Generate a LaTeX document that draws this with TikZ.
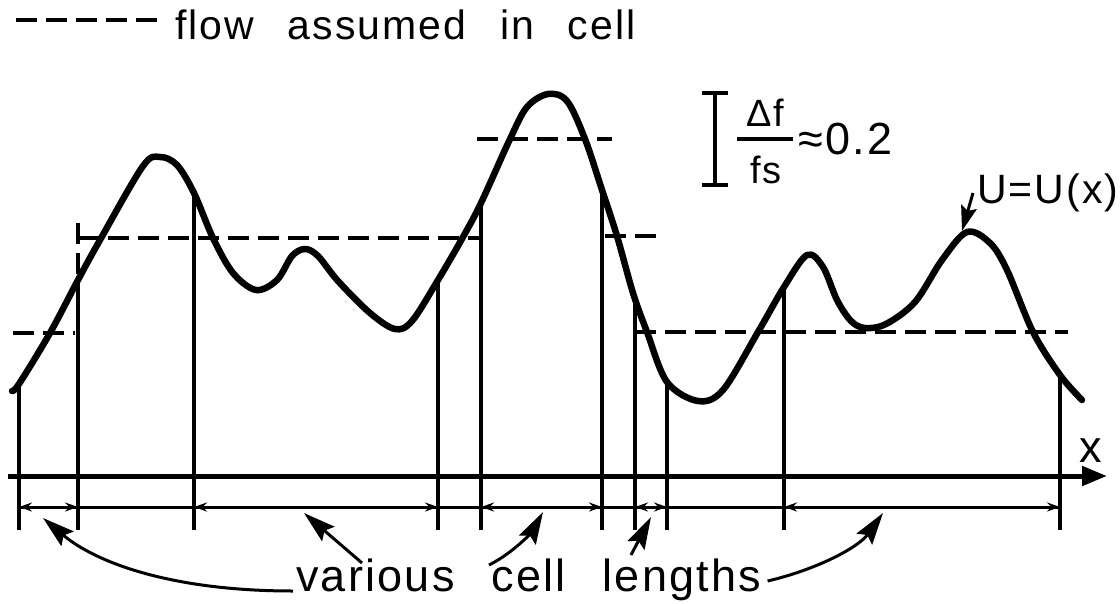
\documentclass[tikz,border=0pt]{standalone}
\usepackage{fontspec}
\setmainfont{Liberation Sans}[LetterSpace=5,WordSpace=2.5]
\usetikzlibrary{arrows.meta,calc}

\begin{document}
\begin{tikzpicture}[x=1pt, y=-1pt,
  ucurve/.style={line width=6.5pt, line join=round, line cap=round},
  cellline/.style={line width=3.8pt},
  flowlevel/.style={line width=4.8pt, dash pattern=on 21pt off 9pt},
  xaxis/.style={line width=5pt, -{Triangle[length=25pt,width=19pt]}},
  dimline/.style={line width=3pt},
  dimarrow/.style={line width=3pt, {Stealth[length=13pt,width=9pt]}-{Stealth[length=13pt,width=9pt]}},
  labarrow/.style={line width=3pt, -{Stealth[length=32pt,width=19pt,inset=5pt]}},
  uarrow/.style={line width=3pt, -{Stealth[length=25pt,width=16pt,inset=4pt]}},
  scalebar/.style={line width=4.2pt, {Bar[width=26pt]}-{Bar[width=26pt]}},
  lettering/.style={inner sep=0pt, font=\fontsize{41}{48}\selectfont},
  biglettering/.style={inner sep=0pt, font=\fontsize{45}{54}\selectfont},
  fraclettering/.style={inner sep=0pt, font=\fontsize{38}{44}\selectfont}]
  \useasboundingbox (0,0) rectangle (1120,603);

  % legend
  \node[lettering, anchor=base west] (legend) at (175,39) {flow assumed in cell};
  \draw[flowlevel] (16,20) -- (157,20);

  % scale of the levels
  \draw[scalebar] (715,91) -- (715,187);
  \node[fraclettering, anchor=base] (dfnum) at (765,126) {Δf};
  \node[fraclettering, anchor=base] (dfden) at (766,183) {fs};
  \draw[line width=3.6pt] (737,139) -- (793,139);
  \node[biglettering, anchor=base west] (approx) at (798,154) {≈0.2};

  % x axis
  \coordinate (o) at (8,476);
  \coordinate (xend) at (1107,476);
  \draw[xaxis] (o) -- (xend);
  \node[biglettering, anchor=base] (xlab) at (1091,462) {x};

  % the function U(x)
  \draw[ucurve] plot[smooth, tension=0.55] coordinates {
    (12,391) (19,384) (50,333) (78,280) (100,240) (143,166) (160,157)
    (177,165) (194,193) (213,238) (233,273) (256,290) (277,280)
    (292,256) (305,249) (318,256) (338,281) (370,313) (395,329)
    (412,321) (438,280) (463,237) (481,203) (510,139) (527,107)
    (548,94) (567,101) (585,139) (602,190) (617,236) (633,293)
    (647,332) (667,382) (698,401) (723,390) (758,332) (784,287)
    (807,255) (823,267) (837,300) (851,321) (865,328) (886,324)
    (915,302) (942,260) (967,232) (990,243) (1007,270) (1033,332)
    (1060,375) (1082,400)};

  % cell boundaries
  \foreach \x/\t [count=\i] in {19/384, 78/280, 194/193, 438/280, 481/203,
      602/190, 635/297, 667/383, 784/285, 1060/375} {
    \coordinate (top\i) at (\x,\t);
    \coordinate (bot\i) at (\x,530);
    \coordinate (d\i) at (\x,507);
    \draw[cellline] (top\i) -- (bot\i);
  }

  % flow assumed in each cell
  \draw[flowlevel] (13,333) -- (75,333);
  \draw[flowlevel] (78,223) -- (78,280);
  \draw[flowlevel] (78,238) -- (480,238);
  \draw[flowlevel] (477,139) -- (612,139);
  \draw[flowlevel] (605,236) -- (660,236);
  \draw[flowlevel] (635,332) -- (1068,332);

  % cell lengths
  \draw[dimline] (d1) -- (d10);
  \foreach \a/\b in {1/2, 3/4, 5/6, 7/8, 9/10}
    \draw[dimarrow] (d\a) -- (d\b);

  % U = U(x)
  \node[lettering, anchor=base west] (ulab) at (977,203) {U=U(x)};
  \coordinate (upeak) at (962,231);
  \draw[uarrow] ($(ulab.base west)+(-4,-10)$) -- (upeak);

  % various cell lengths
  \node[biglettering, anchor=base west] (lab) at (296,591) {various cell lengths};
  \coordinate (t1) at (43,518);
  \coordinate (t2) at (304,513);
  \coordinate (t3) at (543,512);
  \coordinate (t4) at (651,517);
  \coordinate (t5) at (883,513);
  \draw[labarrow] ($(lab.base west)+(-3,0)$) .. controls (170,591) and (95,562) .. (t1);
  \draw[labarrow] ($(lab.base west)+(66,-28)$) -- (t2);
  \draw[labarrow] ($(lab.base west)+(193,-26)$) .. controls (515,552) and (533,530) .. (t3);
  \draw[labarrow] ($(lab.base west)+(335,-36)$) -- (t4);
  \draw[labarrow] ($(lab.base east)+(6,-10)$) .. controls (815,570) and (858,548) .. (t5);
\end{tikzpicture}
\end{document}
